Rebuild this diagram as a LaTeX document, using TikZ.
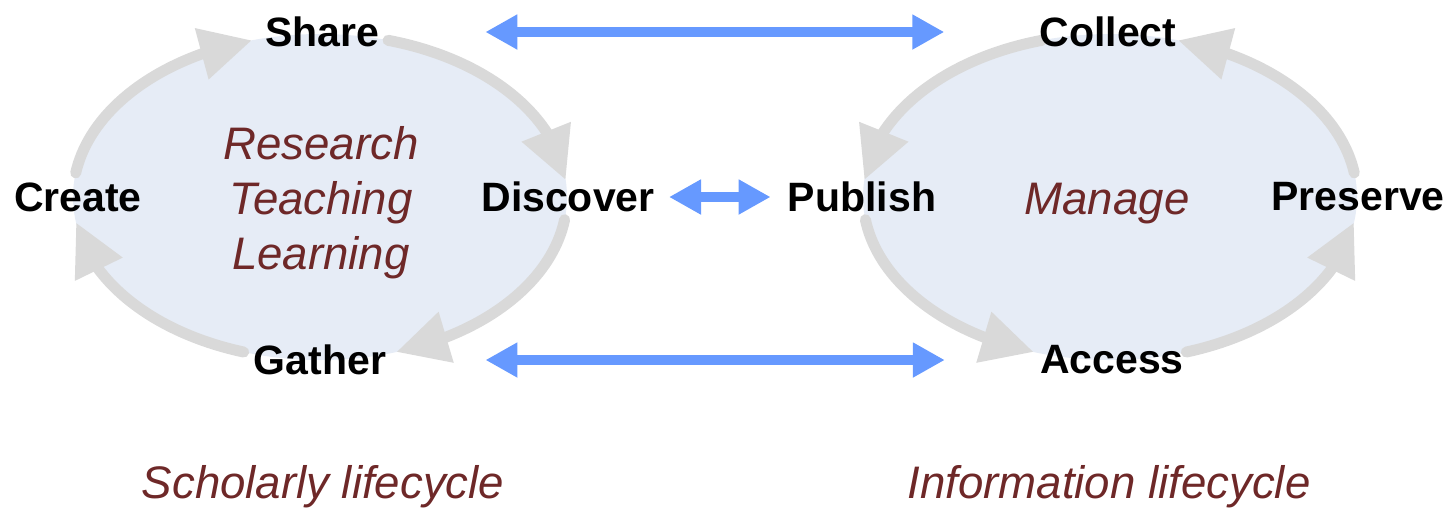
\documentclass[tikz,border=0pt]{standalone}
\usepackage{fontspec}
\setmainfont{Liberation Sans}
\usetikzlibrary{arrows.meta,bending}
\definecolor{fillblue}{HTML}{E6ECF6}
\definecolor{cycgray}{HTML}{D9D9D9}
\definecolor{linkblue}{HTML}{6699FF}
\definecolor{darkred}{HTML}{6E2828}
\begin{document}
\begin{tikzpicture}[x=0.5pt,y=0.5pt,
  lbl/.style={inner sep=0pt,font=\fontsize{20.5}{24}\selectfont\bfseries},
  theme/.style={inner sep=0pt,text=darkred,font=\fontsize{22.8}{27.5}\selectfont\itshape,align=center},
  cyc/.style={draw=cycgray,line width=5.5pt,line cap=round,-{Triangle[length=26pt,width=25pt]}},
  link/.style={draw=linkblue,line width=5pt,{Triangle[length=16pt,width=16.5pt]}-{Triangle[length=16pt,width=16.5pt]}},
  zone/.style={fill=fillblue}]
\useasboundingbox (0,0) rectangle (1451,-509);
\coordinate (c1) at (320,-197);
\coordinate (c2) at (1110,-197);
\fill[zone] (c1) ellipse [x radius=247,y radius=163];
\fill[zone] (c2) ellipse [x radius=247,y radius=163];
% left cycle (clockwise)
\draw[cyc] ([shift={(74:247 and 163)}]c1) arc[start angle=74,end angle=6,x radius=247,y radius=163];
\draw[cyc] ([shift={(-8:247 and 163)}]c1) arc[start angle=-8,end angle=-72,x radius=247,y radius=163];
\draw[cyc] ([shift={(-108:247 and 163)}]c1) arc[start angle=-108,end angle=-171,x radius=247,y radius=163];
\draw[cyc] ([shift={(171.5:247 and 163)}]c1) arc[start angle=171.5,end angle=106,x radius=247,y radius=163];
% right cycle (counter-clockwise)
\draw[cyc] ([shift={(106:247 and 163)}]c2) arc[start angle=106,end angle=174,x radius=247,y radius=163];
\draw[cyc] ([shift={(188:247 and 163)}]c2) arc[start angle=188,end angle=252,x radius=247,y radius=163];
\draw[cyc] ([shift={(288:247 and 163)}]c2) arc[start angle=288,end angle=351,x radius=247,y radius=163];
\draw[cyc] ([shift={(8.5:247 and 163)}]c2) arc[start angle=8.5,end angle=74,x radius=247,y radius=163];
% labels
\node[lbl] (share) at (322,-32) {Share};
\node[lbl] (create) at (78,-197) {Create};
\node[lbl] (discover) at (568,-197) {Discover};
\node[lbl] (gather) at (320,-360) {Gather};
\node[lbl] (collect) at (1108,-32) {Collect};
\node[lbl] (publish) at (862,-197) {Publish};
\node[lbl] (preserve) at (1358,-197) {Preserve};
\node[lbl] (access) at (1112,-360) {Access};
\node[theme] (rtl) at (321,-203) {Research\\Teaching\\Learning};
\node[theme] (manage) at (1107,-204) {Manage};
\node[theme] (scholarly) at (323,-487) {Scholarly lifecycle};
\node[theme] (information) at (1109,-487) {Information lifecycle};
% links
\draw[link,shorten <=53pt,shorten >=47.5pt] (share.east) -- (collect.west);
\draw[link,shorten <=7pt,shorten >=8.5pt] (discover.east) -- (publish.west);
\draw[link,shorten <=49.5pt,shorten >=47.5pt] (gather.east) -- (access.west);
\end{tikzpicture}
\end{document}
